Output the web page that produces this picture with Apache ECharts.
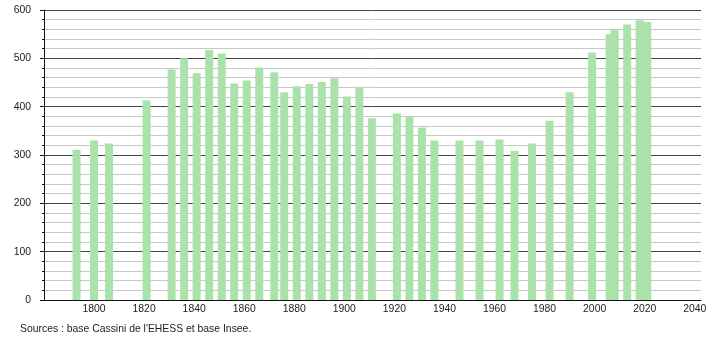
<!DOCTYPE html>
<html>
<head>
<meta charset="utf-8">
<script src="https://cdn.jsdelivr.net/npm/echarts@6/dist/echarts.min.js"></script>
<style>
html,body{margin:0;padding:0;background:#fff;}
#c{width:710px;height:340px;}
</style>
</head>
<body>
<div id="c"></div>
<script>
const years = [1793,1800,1806,1821,1831,1836,1841,1846,1851,1856,1861,1866,1872,1876,1881,1886,1891,1896,1901,1906,1911,1921,1926,1931,1936,1946,1954,1962,1968,1975,1982,1990,1999,2006,2008,2013,2018,2021];
const population = [311,330,324,413,477,500,469,517,510,448,454,481,471,430,442,447,451,459,421,440,376,386,379,357,330,330,330,332,309,324,371,430,512,550,560,570,579,575];
const xTicks = [1800,1820,1840,1860,1880,1900,1920,1940,1960,1980,2000,2020,2040];
const yTicks = [0,100,200,300,400,500,600];
const sourceText = "Sources : base Cassini de l'EHESS et base Insee.";

const chart = echarts.init(document.getElementById('c'), null, {renderer:'canvas'});
const font = 'Liberation Sans, Arial, sans-serif';
const fs = 10.4;
chart.setOption({
  animation:false,
  backgroundColor:'#fff',
  grid:{left:44, right:9, top:10, bottom:40, containLabel:false},
  xAxis:{
    type:'value', min:1780, max:2042.5, interval:20,
    axisLine:{show:true, onZero:false, lineStyle:{color:'#111', width:1}},
    axisTick:{show:false},
    splitLine:{show:false},
    axisLabel:{
      color:'#222', fontFamily:font, fontSize:fs, margin:4,
      formatter:v => xTicks.includes(v) ? String(v) : ''
    }
  },
  yAxis:{
    type:'value', min:0, max:600, interval:100,
    axisLine:{show:true, lineStyle:{color:'#111', width:1}},
    axisTick:{show:true, length:4, lineStyle:{color:'#111'}},
    minorTick:{show:true, splitNumber:5, length:2, lineStyle:{color:'#111'}},
    splitLine:{show:true, lineStyle:{color:'#444', width:1}},
    minorSplitLine:{show:true, lineStyle:{color:'#c8c8c8', width:1}},
    axisLabel:{
      color:'#222', fontFamily:font, fontSize:fs, margin:13,
      formatter:v => yTicks.includes(v) ? String(v) : ''
    }
  },
  graphic:[{
    type:'text', left:20, top:324,
    style:{text:sourceText, fill:'#222', font:fs + 'px ' + font}
  }],
  series:[{
    type:'bar',
    data:years.map((y,i)=>[y, population[i]]),
    barWidth:8,
    barGap:'-100%',
    itemStyle:{color:'#abe2ab'},
    z:3
  }]
});
</script>
</body>
</html>
